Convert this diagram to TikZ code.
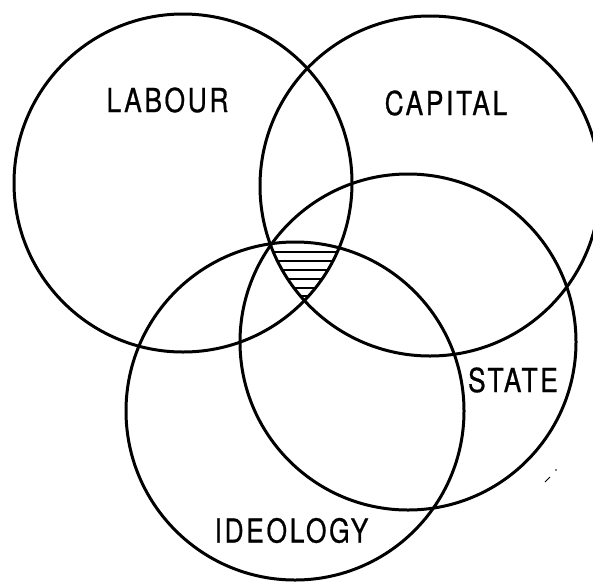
\documentclass[tikz,border=0pt]{standalone}
\usepackage{fontspec}
\setmainfont{TeX Gyre Heros}[FakeStretch=0.8, LetterSpace=8, FakeBold=0.6]
\usepackage{tikz}
\usetikzlibrary{positioning}

\tikzset{
  ring/.style={line width=3pt},
  hatch/.style={line width=2.4pt},
  lbl/.style={inner sep=0pt, font=\fontsize{33}{40}\selectfont}
}

\begin{document}
\begin{tikzpicture}[x=1pt, y=-1pt]
\useasboundingbox (0,0) rectangle (593,584);

% Centres
\coordinate (lab) at (183,183);
\coordinate (cap) at (430,186);
\coordinate (sta) at (408,342);
\coordinate (ideo) at (295,411);

% Circles
\draw[ring] (lab) circle[radius=169pt];
\draw[ring] (cap) circle[radius=170pt];
\draw[ring] (sta) circle[radius=168pt];
\draw[ring] (ideo) circle[radius=169pt];

% Common part
\begin{scope}
\clip (lab) circle[radius=169pt];
\clip (cap) circle[radius=170pt];
\clip (ideo) circle[radius=169pt];
\foreach \y in {252,261,270,279,288,296}
  \draw[hatch] (250,\y) -- (360,\y);
\end{scope}

% Labels
\node[lbl] at (167.5,100) (tlab) {LABOUR};
\node[lbl] at (446,103) (tcap) {CAPITAL};
\node[lbl] at (513,380) (tsta) {STATE};
\node[lbl] at (291.5,530.5) (tideo) {IDEOLOGY};

% Mark
\draw[line width=1pt] (545,482) -- (550,477);
\fill (556,470) circle[radius=0.8pt];

\end{tikzpicture}
\end{document}
